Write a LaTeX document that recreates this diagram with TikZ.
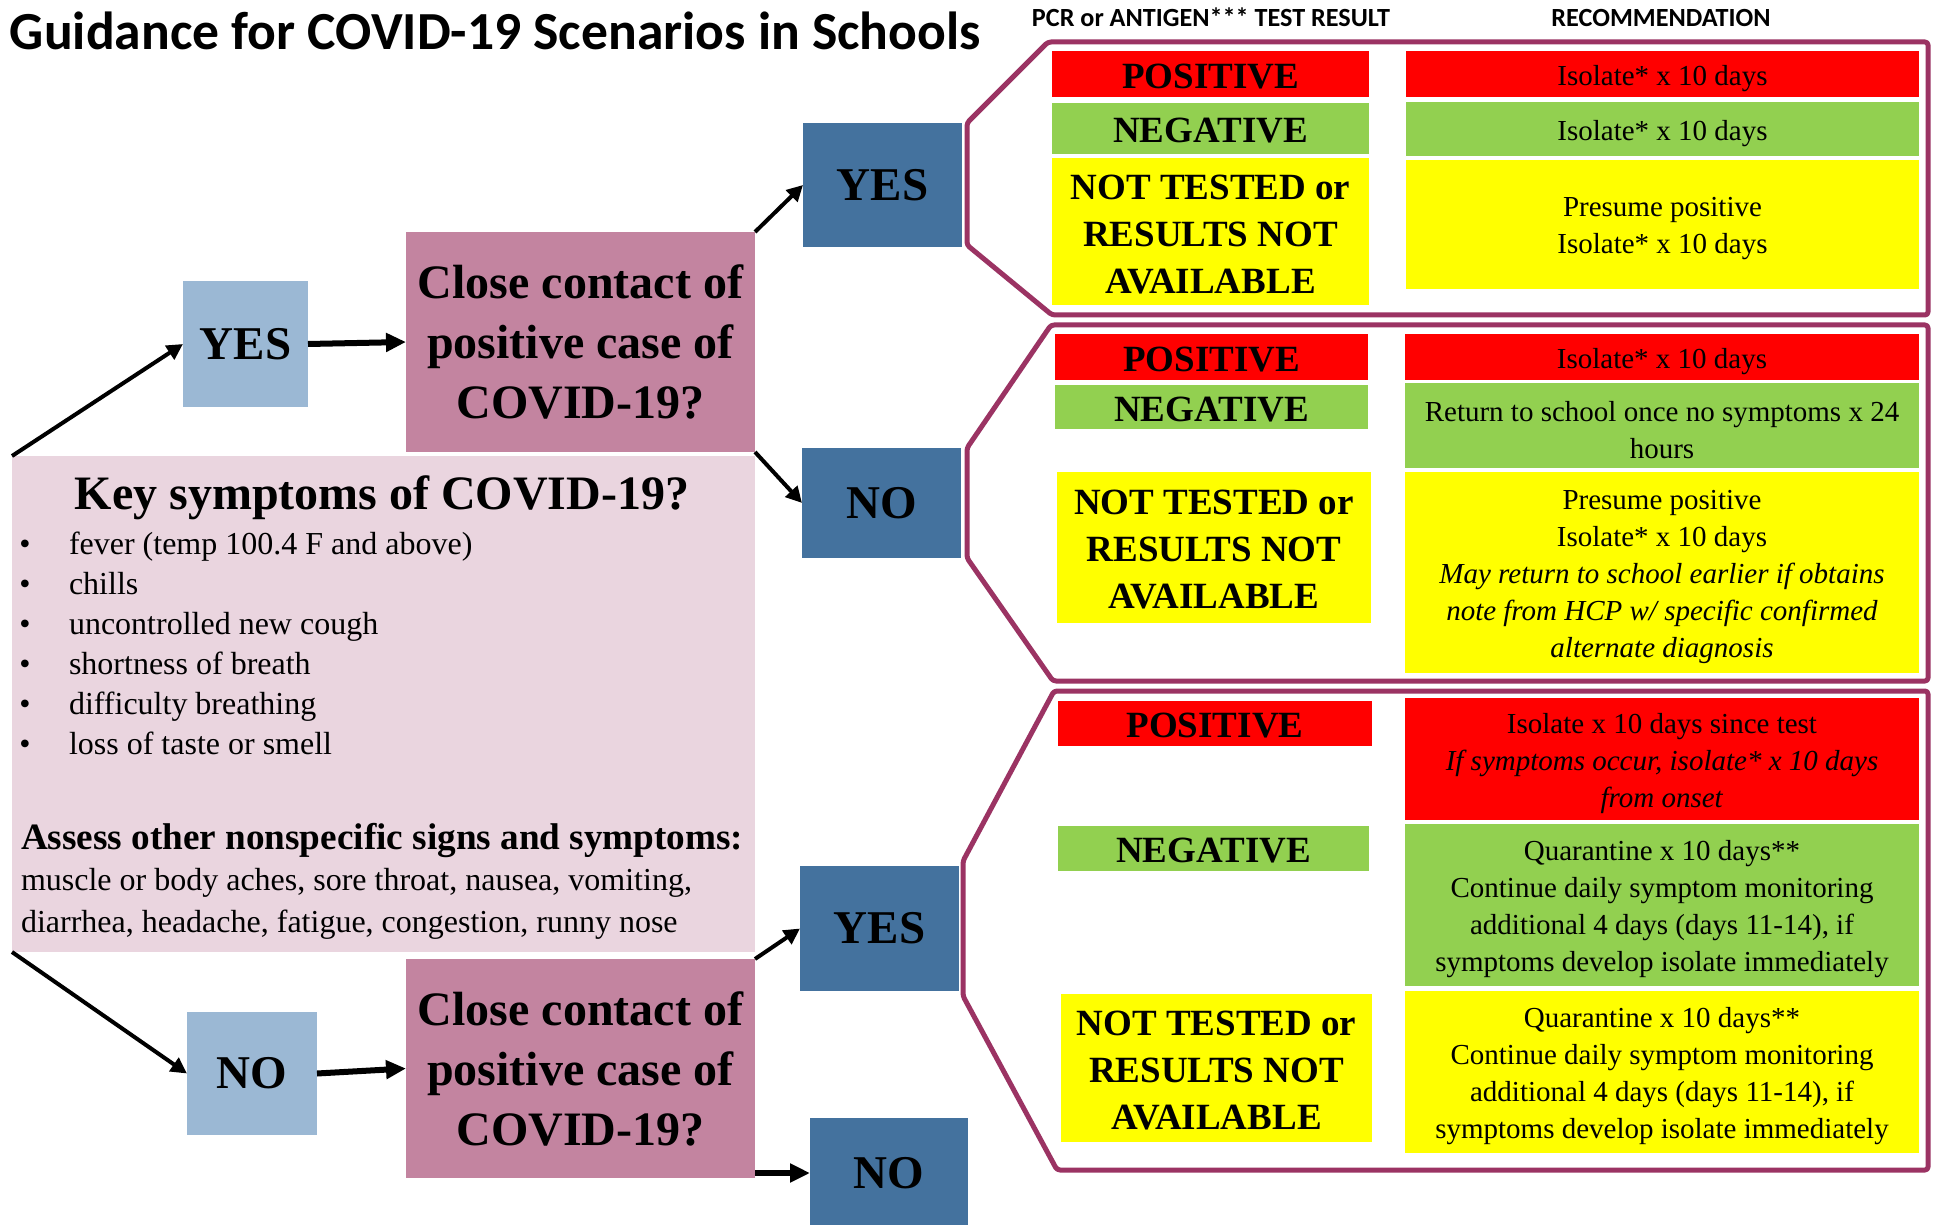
\documentclass[tikz,border=0pt]{standalone}
\usepackage{fontspec}
\setmainfont{Liberation Serif}
\newfontfamily\calfont{Carlito}
\usetikzlibrary{arrows.meta}
\definecolor{dblue}{HTML}{44729E}
\definecolor{lblue}{HTML}{9BB8D4}
\definecolor{mauve}{HTML}{C384A0}
\definecolor{lpink}{HTML}{EAD5DF}
\definecolor{pborder}{HTML}{9B3363}
\definecolor{cred}{HTML}{FF0000}
\definecolor{cgreen}{HTML}{92D050}
\definecolor{cyellow}{HTML}{FFFF00}
% name, text style, fill, width px, height px, centre, text
\newcommand\cellnode[7]{%
  \node[blk, fill=#3, sz={#4}{#5}] (#1) at (#6) {};
  \node[#2] (#1t) at (#1.center) {#7};}
\begin{document}
\begin{tikzpicture}[x=0.5pt,y=-0.5pt,
 blk/.style={inner sep=0pt, outer sep=0pt, align=center},
 res/.style={blk, yshift=-1.25pt, font=\fontsize{18.5}{23.5}\selectfont\bfseries},
 rec/.style={blk, yshift=-2.25pt, font=\fontsize{14.5}{18.5}\selectfont},
 yn/.style={blk, fill=dblue, font=\fontsize{23.5}{28}\selectfont\bfseries},
 ynl/.style={yn, fill=lblue},
 q/.style={blk, fill=mauve, font=\fontsize{24}{30}\selectfont\bfseries},
 panel/.style={draw=pborder, line width=2.5pt, line join=round, rounded corners=1.5pt},
 arr/.style={-{Triangle[length=8pt,width=8pt]}, line width=2pt},
 harr/.style={-{Triangle[length=10pt,width=9pt]}, line width=3pt},
 sz/.code 2 args={\pgfmathsetmacro\tmpw{#1*0.5}\pgfmathsetmacro\tmph{#2*0.5}\pgfkeysalso{minimum width=\tmpw pt, minimum height=\tmph pt}},
 txt/.style={inner sep=0pt, outer sep=0pt},
]
\fill[white] (0,0) rectangle (1934,1225);
\useasboundingbox (0,0) rectangle (1934,1225);

% title and headers
\node[txt, anchor=base west, font=\calfont\bfseries\fontsize{26.8}{30}\selectfont] (title) at (10,50) {Guidance for COVID-19 Scenarios in Schools};
\node[txt, anchor=base, font=\calfont\bfseries\fontsize{13.1}{15}\selectfont] (h1) at (1211,27) {PCR or ANTIGEN*** TEST RESULT};
\node[txt, anchor=base, font=\calfont\bfseries\fontsize{13.1}{15}\selectfont] (h2) at (1661,27) {RECOMMENDATION};

% panels
\draw[panel] (1048,42) -- (1928,42) -- (1928,315) -- (1052,315) -- (967,245) -- (967,123) -- cycle;
\draw[panel] (1051,325) -- (1928,325) -- (1928,681) -- (1053,681) -- (967,558) -- (967,448) -- cycle;
\draw[panel] (1054,691) -- (1928,691) -- (1928,1170) -- (1057,1170) -- (963,996) -- (963,861) -- cycle;

% top panel
\cellnode{p1l}{res}{cred}{317}{46}{1210.5,74}{POSITIVE}
\cellnode{p1r}{rec}{cred}{513}{46}{1662.5,74}{Isolate* x 10 days}
\cellnode{n1l}{res}{cgreen}{317}{51}{1210.5,128.5}{NEGATIVE}
\cellnode{n1r}{rec}{cgreen}{513}{54}{1662.5,129}{Isolate* x 10 days}
\cellnode{y1l}{res}{cyellow}{317}{147}{1210.5,232}{NOT TESTED or\\RESULTS NOT\\AVAILABLE}
\cellnode{y1r}{rec}{cyellow}{513}{129}{1662.5,224.5}{Presume positive\\Isolate* x 10 days}

% middle panel
\cellnode{p2l}{res}{cred}{313}{46}{1211.5,357}{POSITIVE}
\cellnode{p2r}{rec}{cred}{514}{46}{1662,357}{Isolate* x 10 days}
\cellnode{n2l}{res}{cgreen}{313}{44}{1211.5,407}{NEGATIVE}
\cellnode{n2r}{rec}{cgreen}{514}{85}{1662,425.5}{Return to school once no symptoms x 24\\hours}
\cellnode{y2l}{res}{cyellow}{314}{151}{1214,547.5}{NOT TESTED or\\RESULTS NOT\\AVAILABLE}
\cellnode{y2r}{rec}{cyellow}{514}{201}{1662,572.5}{Presume positive\\Isolate* x 10 days\\\textit{May return to school earlier if obtains}\\\textit{note from HCP w/ specific confirmed}\\\textit{alternate diagnosis}}

% lower panel
\cellnode{p3l}{res}{cred}{314}{45}{1215,723.5}{POSITIVE}
\cellnode{p3r}{rec}{cred}{514}{122}{1662,759}{Isolate x 10 days since test\\\textit{If symptoms occur, isolate* x 10 days}\\\textit{from onset}}
\cellnode{n3l}{res}{cgreen}{311}{45}{1213.5,848.5}{NEGATIVE}
\cellnode{n3r}{rec}{cgreen}{514}{162}{1662,905}{Quarantine x 10 days**\\Continue daily symptom monitoring\\additional 4 days (days 11-14), if\\symptoms develop isolate immediately}
\cellnode{y3l}{res}{cyellow}{311}{148}{1216.5,1068}{NOT TESTED or\\RESULTS NOT\\AVAILABLE}
\cellnode{y3r}{rec}{cyellow}{514}{162}{1662,1072}{Quarantine x 10 days**\\Continue daily symptom monitoring\\additional 4 days (days 11-14), if\\symptoms develop isolate immediately}

% left flow
\node[ynl, sz={125}{126}] (yesA) at (245.5,344) {YES};
\node[q, sz={349}{220}] (pinkA) at (580.5,342) {Close contact of\\positive case of\\COVID-19?};
\node[yn, sz={159}{124}] (yesB) at (882.5,185) {YES};
\node[yn, sz={159}{110}] (noB) at (881.5,503) {NO};
\node[blk, fill=lpink, sz={743}{496}] (key) at (383.5,704) {};
\node[ynl, sz={130}{123}] (noA) at (252,1073.5) {NO};
\node[q, sz={349}{219}] (pinkB) at (580.5,1068.5) {Close contact of\\positive case of\\COVID-19?};
\node[yn, sz={159}{125}] (yesC) at (879.5,928.5) {YES};
\node[yn, sz={158}{110}] (noC) at (889,1173) {NO};

% key symptoms text
\node[txt, anchor=base, font=\fontsize{24}{28}\selectfont\bfseries] (ktitle) at (382,509) {Key symptoms of COVID-19?};
\foreach \t [count=\i] in {fever (temp 100.4 F and above), chills, uncontrolled new cough, shortness of breath, difficulty breathing, loss of taste or smell}{
  \node[txt, anchor=base, font=\fontsize{16}{20}\selectfont] (bd\i) at (25,{514+40*\i}) {\textbullet};
  \node[txt, anchor=base west, font=\fontsize{16}{20}\selectfont] (bt\i) at (69,{514+40*\i}) {\t};
}
\node[txt, anchor=base west, font=\fontsize{18.6}{22}\selectfont\bfseries] (assess) at (21,849) {Assess other nonspecific signs and symptoms:};
\node[txt, anchor=base west, font=\fontsize{16}{20}\selectfont] (oth1) at (21,890) {muscle or body aches, sore throat, nausea, vomiting,};
\node[txt, anchor=base west, font=\fontsize{16}{20}\selectfont] (oth2) at (21,932) {diarrhea, headache, fatigue, congestion, runny nose};

% arrows
\draw[arr] (key.north west) -- (yesA.west);
\draw[harr] (yesA.east) -- (pinkA.west);
\draw[arr] (pinkA.north east) -- (yesB.west);
\draw[arr] (pinkA.south east) -- (noB.west);
\draw[arr] (key.south west) -- (noA.west);
\draw[harr] (noA.east) -- (pinkB.west);
\draw[arr] (pinkB.north east) -- (yesC.west);
\draw[harr] (pinkB.east |- noC.west) -- (noC.west);
\end{tikzpicture}
\end{document}
